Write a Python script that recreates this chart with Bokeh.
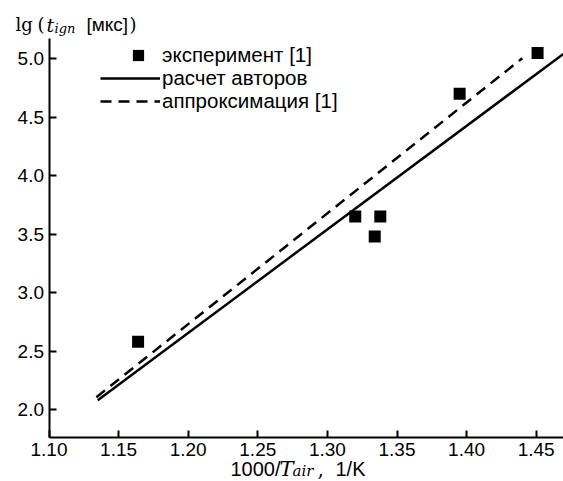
from bokeh.plotting import figure
from bokeh.models import Range1d, FixedTicker, Legend, LegendItem, Label, NumeralTickFormatter
from bokeh.embed import file_html
from bokeh.resources import INLINE

# ---- data ----
exp_x = [1.164, 1.320, 1.334, 1.338, 1.395, 1.451]
exp_y = [2.58, 3.65, 3.48, 3.65, 4.70, 5.05]
calc_x = [1.135, 1.475]
calc_y = [2.08, 5.09]
approx_x = [1.134, 1.440]
approx_y = [2.105, 5.005]
x_ticks = [1.10, 1.15, 1.20, 1.25, 1.30, 1.35, 1.40, 1.45]
y_ticks = [2.0, 2.5, 3.0, 3.5, 4.0, 4.5, 5.0]
legend_labels = ["эксперимент [1]", "расчет авторов", "аппроксимация [1]"]

W, H = 563, 481
# pixel calibration of the reference
PX_X0, PX_PER_X = 48.5, 1392.0     # page x of 1.10, px per unit
PY_Y5, PX_PER_Y = 58.3, 116.9      # page y of 5.0, px per unit

def px2x(px):
    return 1.10 + (px - PX_X0) / PX_PER_X
def py2y(py):
    return 5.0 - (py - PY_Y5) / PX_PER_Y

AX_X = 1.10
AX_Y = py2y(437)
TOP_Y = py2y(38)
RIGHT_X = px2x(W)

p = figure(width=W, height=H, output_backend="svg", toolbar_location=None,
           x_range=Range1d(px2x(0), px2x(W)), y_range=Range1d(py2y(H), py2y(0)),
           min_border=0, min_border_left=0, min_border_right=0,
           min_border_top=0, min_border_bottom=0)
p.outline_line_color = None
p.grid.visible = False
p.background_fill_color = "white"

SANS = "Liberation Sans"
SERIF = "DejaVu Serif"

for ax in (p.xaxis[0], p.yaxis[0]):
    ax.axis_line_width = 2
    ax.axis_line_color = "black"
    ax.major_tick_line_width = 2
    ax.major_tick_line_color = "black"
    ax.major_tick_in = 7
    ax.major_tick_out = 0
    ax.minor_tick_line_color = None
    ax.major_label_text_font = SANS
    ax.major_label_text_font_size = "19px"
    ax.major_label_text_color = "black"
    ax.major_label_standoff = 5

p.xaxis.fixed_location = AX_Y
p.xaxis.bounds = (AX_X, RIGHT_X)
p.yaxis.fixed_location = AX_X
p.yaxis.bounds = (AX_Y, TOP_Y)

p.xaxis.ticker = FixedTicker(ticks=x_ticks)
p.xaxis.formatter = NumeralTickFormatter(format="0.00")
p.yaxis.ticker = FixedTicker(ticks=y_ticks)
p.yaxis.formatter = NumeralTickFormatter(format="0.0")

r_calc = p.line(calc_x, calc_y, line_color="black", line_width=2.5)
r_appr = p.line(approx_x, approx_y, line_color="black", line_width=2.5, line_dash="11 7")
r_exp = p.scatter(exp_x, exp_y, marker="square", size=12, fill_color="black", line_color=None)

def add_legend(label, rend, x0, vy, gw, standoff):
    lg = Legend(items=[LegendItem(label=label, renderers=[rend])],
                location=(x0, vy), padding=0, margin=0, spacing=0,
                glyph_width=gw, glyph_height=28, label_height=28, label_standoff=standoff,
                label_text_font=SANS, label_text_font_size="20.5px", label_text_color="black",
                background_fill_alpha=0, border_line_alpha=0)
    p.add_layout(lg, "center")

add_legend(legend_labels[0], r_exp, 114, 412, 48, 0)
add_legend(legend_labels[1], r_calc, 100, 389, 60, 2)
add_legend(legend_labels[2], r_appr, 100, 366, 60, 2)

def lab(txt, px, py, font, size, style="normal"):
    p.add_layout(Label(x=px2x(px), y=py2y(py), text=txt, text_font=font,
                       text_font_size=size, text_font_style=style, text_color="black",
                       text_baseline="alphabetic", text_align="left"))

# y title: lg (t_ign [мкс])
lab("lg", 15, 24, SERIF, "18px")
lab("(", 37, 24, SERIF, "18px")
lab("t", 46, 24, SERIF, "19px", "italic")
lab("ign", 54, 28, SERIF, "13px", "italic")
lab("[мкс]", 86, 24, SANS, "19px")
lab(")", 129, 24, SERIF, "18px")

# x title: 1000/T_air, 1/K
lab("1000/", 230, 468, SANS, "20px")
lab("T", 279, 468, SERIF, "21px", "italic")
lab("air", 292, 470, SERIF, "15px", "italic")
lab(",", 317, 468, SERIF, "20px")
lab("1/K", 335, 468, SANS, "20px")

open("out.html", "w").write(file_html(p, INLINE))
